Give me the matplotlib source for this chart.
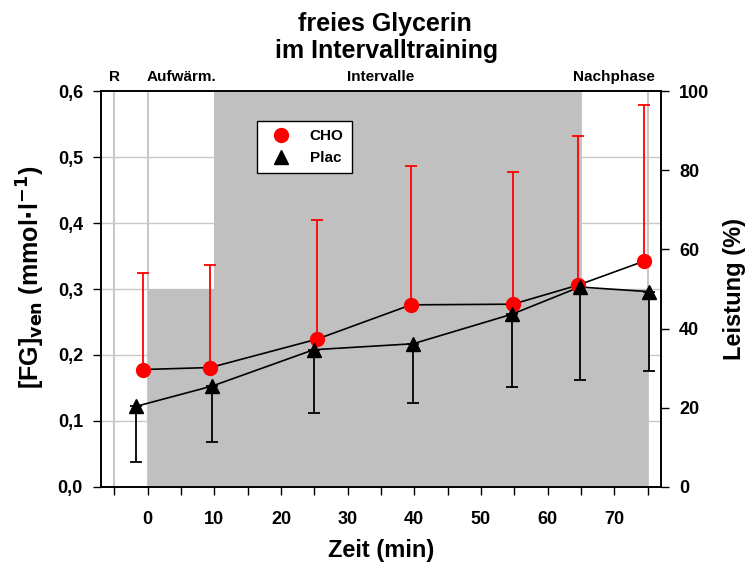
import matplotlib.pyplot as plt
from matplotlib.lines import Line2D

plt.rcParams['font.family'] = ['Liberation Sans', 'DejaVu Sans']
plt.rcParams['font.weight'] = 'bold'
plt.rcParams['mathtext.default'] = 'bf'

# ---------- Data ----------
cho_x = [-0.7, 9.4, 25.4, 39.5, 54.8, 64.6, 74.4]
cho_y = [0.178, 0.181, 0.224, 0.276, 0.277, 0.306, 0.342]
cho_err_up = [0.146, 0.155, 0.181, 0.211, 0.201, 0.226, 0.237]

plac_x = [-1.8, 9.7, 24.9, 39.8, 54.7, 64.8, 75.2]
plac_y = [0.122, 0.153, 0.208, 0.217, 0.262, 0.303, 0.296]
plac_err_dn = [0.084, 0.085, 0.096, 0.090, 0.110, 0.141, 0.121]

# Leistung (%) per phase: start, width, height
phase_start = [0, 10, 65]
phase_width = [10, 55, 10]
phase_load = [50, 100, 50]

phase_names = ['R', 'Aufwärm.', 'Intervalle', 'Nachphase']
phase_label_x = [-5, 5, 35, 70]
phase_lines = [-5, 0, 65, 75]

# ---------- Figure ----------
fig = plt.figure(figsize=(7.46, 5.62), dpi=100)
ax = fig.add_axes([0.1354, 0.1335, 0.7506, 0.7045])
ax2 = ax.twinx()
ax2.set_zorder(0)
ax.set_zorder(1)
ax.patch.set_visible(False)

# background: grid lines, then load bars
for y in [0.1, 0.2, 0.3, 0.4, 0.5]:
    ax2.axhline(y / 0.6 * 100, color='#c8c8c8', lw=1, zorder=0)
for x in phase_lines:
    ax2.axvline(x, color='#c8c8c8', lw=1.5, zorder=0)
ax2.bar(phase_start, phase_load, width=phase_width, align='edge',
        color='#c0c0c0', zorder=1)

# CHO
ax.errorbar(cho_x, cho_y, yerr=[[0] * 7, cho_err_up], fmt='none',
            ecolor='red', elinewidth=1.3, capsize=4, capthick=1.3, zorder=2)
ax.plot(cho_x, cho_y, color='black', lw=1.2, zorder=3)
ax.plot(cho_x, cho_y, 'o', color='red', ms=10, zorder=4)

# Plac
ax.errorbar(plac_x, plac_y, yerr=[plac_err_dn, [0] * 7], fmt='none',
            ecolor='black', elinewidth=1.3, capsize=4, capthick=1.3, zorder=2)
ax.plot(plac_x, plac_y, color='black', lw=1.2, zorder=3)
ax.plot(plac_x, plac_y, '^', color='black', ms=10, zorder=4)

# ---------- Axes ----------
ax.set_xlim(-7, 77)
ax.set_ylim(0, 0.6)
ax2.set_ylim(0, 100)

xt = list(range(-5, 80, 5))
ax.set_xticks(xt)
ax.set_xticklabels([str(v) if (v % 10 == 0 and 0 <= v <= 70) else '' for v in xt])
yt = [0.0, 0.1, 0.2, 0.3, 0.4, 0.5, 0.6]
ax.set_yticks(yt)
ax.set_yticklabels([f'{v:.1f}'.replace('.', ',') for v in yt])
ax2.set_yticks([0, 20, 40, 60, 80, 100])

for a in (ax, ax2):
    a.tick_params(direction='out', length=6, width=1, labelsize=13, pad=7)
    for lab in a.get_xticklabels() + a.get_yticklabels():
        lab.set_fontweight('bold')
    for s in a.spines.values():
        s.set_linewidth(1.2)
ax.tick_params(axis='x', pad=11)

ax.set_xlabel('Zeit (min)', fontsize=17, fontweight='bold', labelpad=8)
ax.set_ylabel(r'[FG]$_{\mathbf{ven}}$ (mmol$\cdot$l$^{\mathbf{-1}}$)',
              fontsize=18, fontweight='bold')
ax.yaxis.set_label_coords(-0.096, 0.53)
ax2.set_ylabel('Leistung (%)', fontsize=17, fontweight='bold', labelpad=10)

fig.text(0.516, 1 - 31 / 562, 'freies Glycerin', ha='center', va='baseline',
         fontsize=18, fontweight='bold')
fig.text(0.518, 1 - 58 / 562, 'im Intervalltraining', ha='center',
         va='baseline', fontsize=18, fontweight='bold')

for name, x in zip(phase_names, phase_label_x):
    ax.text(x, 0.61, name, ha='center', va='bottom', fontsize=11,
            fontweight='bold')

handles = [
    Line2D([], [], marker='o', color='red', ls='none', ms=10),
    Line2D([], [], marker='^', color='black', ls='none', ms=10),
]
leg = ax.legend(handles, ['CHO', 'Plac'], loc='upper left',
                bbox_to_anchor=(257 / 746, 1 - 121 / 562),
                bbox_transform=fig.transFigure, fancybox=False, framealpha=1,
                edgecolor='black', prop={'weight': 'bold', 'size': 11},
                handletextpad=0.9, borderpad=0.55, labelspacing=0.5,
                borderaxespad=0)
leg.get_frame().set_linewidth(1)

fig.savefig('out.png', dpi=100)
